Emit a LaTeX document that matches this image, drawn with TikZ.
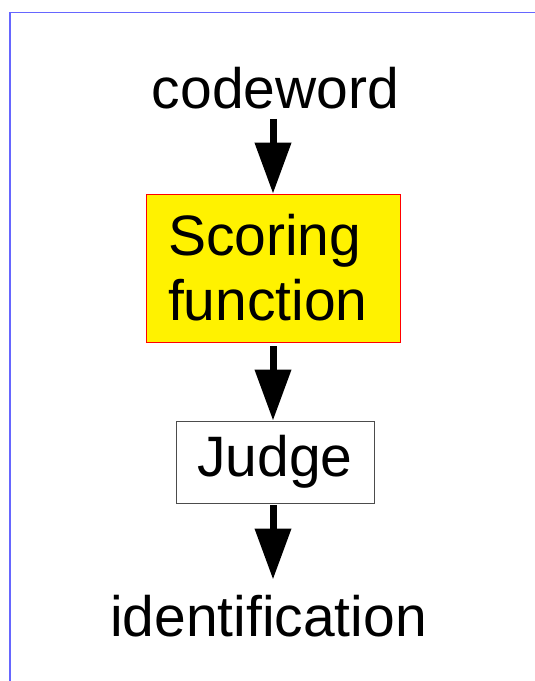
\documentclass[tikz,border=0pt]{standalone}
\usepackage{fontspec}
\setmainfont{Liberation Sans}
\usetikzlibrary{arrows.meta}
\definecolor{frameblue}{RGB}{102,102,255}
\tikzset{
  lbl/.style={inner sep=0pt, anchor=base, font=\fontsize{57}{65}\selectfont},
  boxnode/.style={inner sep=0pt, font=\fontsize{57}{65}\selectfont},
  bigarrow/.style={line width=7pt, -{Triangle[width=35pt,length=51pt]}}
}
\begin{document}
\begin{tikzpicture}[x=1pt,y=-1pt]
\useasboundingbox (0,0) rectangle (535,681);
\fill[white] (0,0) rectangle (535,681);
\draw[frameblue, line width=1.5pt] (10,681) -- (10,12.5) -- (535,12.5);
\node[lbl] (cw) at (275.5,108) {codeword};
\node[boxnode, draw=red, fill=yellow, line width=0.6pt, inner xsep=22pt, text width=210pt, minimum height=148pt, align=left] (sf) at (273,268) {Scoring\\function};
\node[boxnode, draw=black!70, fill=white, line width=0.8pt, minimum width=198pt, minimum height=82pt] (jd) at (275,462) {\raisebox{-1.5pt}{Judge}};
\node[lbl] (id) at (268.5,636) {identification};
\draw[bigarrow, shorten <=10pt] (cw.south -| sf.north) -- (sf.north);
\draw[bigarrow, shorten <=4pt] (sf.south) -- (jd.north -| sf.south);
\draw[bigarrow, shorten <=2pt, shorten >=15pt] (jd.south -| sf.south) -- (id.north -| sf.south);
\end{tikzpicture}
\end{document}
